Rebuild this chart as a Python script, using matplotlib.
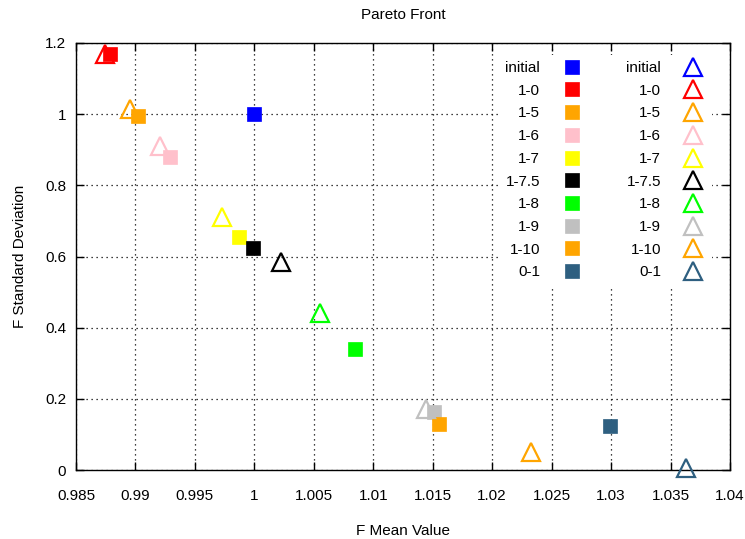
import matplotlib
matplotlib.use("Agg")
import matplotlib.pyplot as plt
import numpy as np

plt.rcParams['font.family'] = ['Liberation Sans', 'DejaVu Sans']

labels = ["initial", "1-0", "1-5", "1-6", "1-7", "1-7.5", "1-8", "1-9", "1-10", "0-1"]
colors = ["#0000ff", "#ff0000", "#ffa500", "#ffc0cb", "#ffff00", "#000000",
          "#00ff00", "#c0c0c0", "#ffa500", "#2e5f80"]

# filled squares
sq_x = [1.0000, 0.98785, 0.99025, 0.99290, 0.99870, 0.99990, 1.00845, 1.01510, 1.01550, 1.02990]
sq_y = [1.000, 1.170, 0.995, 0.880, 0.655, 0.625, 0.340, 0.163, 0.130, 0.125]

# open triangles (the "initial" triangle is not visible in the chart)
tr_x = [np.nan, 0.98745, 0.98955, 0.99205, 0.99730, 1.00220, 1.00550, 1.01445, 1.02325, 1.03630]
tr_y = [np.nan, 1.170, 1.015, 0.910, 0.710, 0.585, 0.442, 0.172, 0.050, 0.005]

x_ticks = [0.985, 0.99, 0.995, 1.0, 1.005, 1.01, 1.015, 1.02, 1.025, 1.03, 1.035, 1.04]
x_tick_labels = ["0.985", "0.99", "0.995", "1", "1.005", "1.01", "1.015", "1.02",
                 "1.025", "1.03", "1.035", "1.04"]
y_ticks = [0, 0.2, 0.4, 0.6, 0.8, 1.0, 1.2]
y_tick_labels = ["0", "0.2", "0.4", "0.6", "0.8", "1", "1.2"]

fig = plt.figure(figsize=(7.45, 5.39), dpi=100)
ax = fig.add_axes([76/745, 1 - 470/539, (730 - 76)/745, (470 - 43)/539])

handles_sq = []
for i, lab in enumerate(labels):
    h, = ax.plot([sq_x[i]], [sq_y[i]], linestyle='none', marker='s', markersize=10.5,
                 markerfacecolor=colors[i], markeredgecolor=colors[i], markeredgewidth=0.5,
                 label=lab, zorder=3)
    handles_sq.append(h)
handles_tr = []
for i, lab in enumerate(labels):
    h, = ax.plot([tr_x[i]], [tr_y[i]], linestyle='none', marker='^', markersize=12.5,
                 markerfacecolor='none', markeredgecolor=colors[i], markeredgewidth=1.6,
                 label=lab, zorder=4, clip_on=False)
    handles_tr.append(h)

ax.set_xlim(0.985, 1.04)
ax.set_ylim(0, 1.2)
ax.set_xticks(x_ticks)
ax.set_xticklabels(x_tick_labels)
ax.set_yticks(y_ticks)
ax.set_yticklabels(y_tick_labels)
ax.tick_params(direction='in', length=6, width=1, top=True, right=True,
               labelsize=11, colors='black')
ax.tick_params(axis='x', pad=13.5)
ax.tick_params(axis='y', pad=7)
ax.grid(True, linestyle=(0, (1, 3)), color='black', linewidth=0.9)
for s in ax.spines.values():
    s.set_linewidth(1)

ax.set_title("Pareto Front", fontsize=11, pad=17)
ax.set_xlabel("F Mean Value", fontsize=11, labelpad=15)
ax.set_ylabel("F Standard Deviation", fontsize=11, labelpad=13)

leg = ax.legend(handles_sq + handles_tr, labels + labels, ncol=2, markerfirst=False,
                loc='upper right', bbox_to_anchor=(0.9836, 0.99), fontsize=11,
                frameon=True, facecolor='white', edgecolor='none', framealpha=1,
                fancybox=False, labelspacing=0.57, handlelength=1.6,
                handletextpad=1.3, columnspacing=2.75, borderpad=0.4, numpoints=1)
leg.set_zorder(10)

fig.savefig("out.png", dpi=100)
